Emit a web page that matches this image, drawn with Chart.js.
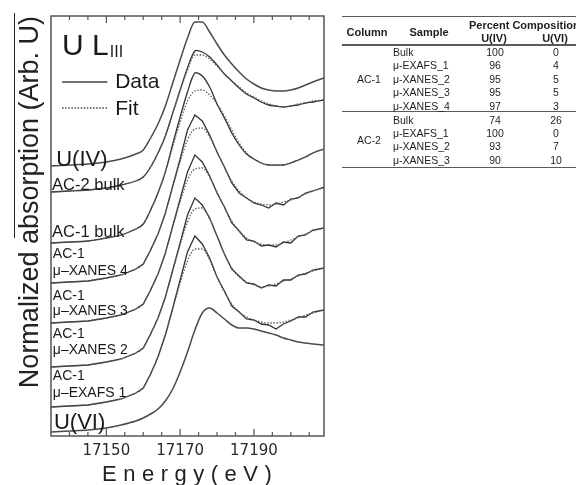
<!DOCTYPE html>
<html>
<head>
<meta charset="utf-8">
<script src="https://cdn.jsdelivr.net/npm/chart.js@4.4.1/dist/chart.umd.min.js"></script>
<style>
  html, body { margin: 0; padding: 0; background: #fff; }
  #wrap { position: relative; width: 576px; height: 485px; overflow: hidden; }
  #chart { position: absolute; left: 0; top: 0; }
  #table { position: absolute; left: 0; top: 0; width: 576px; height: 485px; font-family: 'Liberation Sans', Arial, sans-serif; color: #1e1e1e; }
  .t { position: absolute; white-space: nowrap; line-height: 1; }
  .rule { position: absolute; left: 342px; width: 234px; background: #5a5a5a; }
</style>
</head>
<body>
<div id="wrap">
  <canvas id="chart" width="576" height="485"></canvas>
  <div id="table"></div>
</div>
<script>
// energy grid (eV)
const energy = [17135, 17140, 17145, 17150, 17154, 17158, 17160, 17162, 17164, 17166,
  17168, 17170, 17172, 17174, 17176, 17178, 17180, 17182, 17184, 17186,
  17188, 17190, 17192, 17194, 17196, 17198, 17200, 17202, 17204, 17206, 17209];

// stacked spectra, arb. units (offsets included)
const uIV = [27.0, 27.1, 27.2, 27.4, 27.7, 28.2, 28.6, 29.8, 31.2, 33.0,
  35.3, 37.6, 39.8, 41.4, 41.4, 40.4, 39.2, 38.1, 37.2, 36.4,
  35.7, 35.2, 34.8, 34.6, 34.5, 34.5, 34.6, 34.8, 35.1, 35.4, 35.8];
const ac2Bulk = [24.4, 24.5, 24.6, 24.8, 25.1, 25.5, 25.9, 26.9, 28.3, 30.0,
  32.3, 34.6, 36.8, 38.5, 38.4, 37.9, 37.1, 36.2, 35.5, 34.8,
  34.2, 33.8, 33.4, 33.1, 33.0, 32.9, 33.0, 33.1, 33.3, 33.4, 33.6];
const ac2BulkFit = [24.4, 24.5, 24.6, 24.8, 25.1, 25.5, 25.9, 26.9, 28.3, 30.0,
  32.3, 34.5, 36.6, 38.1, 38.1, 37.7, 37.0, 36.2, 35.5, 34.9,
  34.3, 33.9, 33.5, 33.2, 33.0, 32.9, 33.0, 33.2, 33.3, 33.5, 33.6];
const ac1Bulk = [19.3, 19.4, 19.5, 19.8, 20.1, 20.7, 21.2, 22.6, 24.3, 26.4,
  29.2, 31.9, 34.4, 36.3, 36.0, 34.9, 33.2, 31.8, 30.3, 29.1,
  28.2, 27.7, 27.3, 27.1, 27.1, 27.1, 27.3, 27.6, 27.9, 28.3, 28.7];
const ac1BulkFit = [19.3, 19.4, 19.5, 19.8, 20.1, 20.7, 21.2, 22.6, 24.3, 26.4,
  28.9, 31.4, 33.5, 34.5, 34.6, 34.1, 33.2, 32.0, 30.6, 29.3,
  28.3, 27.7, 27.3, 27.1, 27.1, 27.1, 27.3, 27.6, 27.9, 28.3, 28.7];
const xanes4 = [15.3, 15.4, 15.5, 15.8, 16.1, 16.7, 17.2, 18.6, 20.2, 22.3,
  25.0, 27.7, 30.6, 32.1, 31.5, 30.1, 28.4, 26.9, 25.3, 24.3,
  23.8, 23.3, 23.1, 22.8, 23.3, 23.1, 23.7, 23.8, 24.3, 24.5, 24.9];
const xanes4Fit = [15.3, 15.4, 15.5, 15.8, 16.1, 16.7, 17.2, 18.6, 20.2, 22.3,
  24.9, 27.4, 29.6, 30.7, 30.8, 29.9, 28.4, 26.9, 25.5, 24.5,
  23.8, 23.4, 23.2, 23.1, 23.2, 23.4, 23.6, 23.9, 24.2, 24.5, 24.8];
const xanes3 = [11.3, 11.4, 11.5, 11.8, 12.1, 12.7, 13.2, 14.6, 16.2, 18.3,
  21.0, 23.7, 26.4, 28.1, 27.4, 26.0, 24.3, 22.9, 21.3, 20.5,
  19.6, 19.5, 19.0, 19.1, 18.9, 19.4, 19.3, 20.0, 20.1, 20.6, 20.8];
const xanes3Fit = [11.3, 11.4, 11.5, 11.8, 12.1, 12.7, 13.2, 14.6, 16.2, 18.3,
  20.9, 23.4, 25.6, 26.7, 26.8, 25.9, 24.4, 22.9, 21.5, 20.5,
  19.8, 19.4, 19.2, 19.1, 19.1, 19.3, 19.6, 19.9, 20.2, 20.5, 20.8];
const xanes2 = [6.9, 7.0, 7.1, 7.4, 7.7, 8.3, 8.8, 10.2, 11.8, 13.9,
  16.6, 19.3, 22.1, 23.8, 23.1, 21.8, 20.0, 18.2, 16.7, 16.0,
  15.3, 15.2, 14.8, 15.1, 15.0, 15.6, 15.6, 16.1, 16.2, 16.6, 16.8];
const xanes2Fit = [6.9, 7.0, 7.1, 7.4, 7.7, 8.3, 8.8, 10.2, 11.8, 13.9,
  16.5, 19.1, 21.4, 22.7, 22.8, 21.7, 20.0, 18.2, 16.8, 15.9,
  15.4, 15.1, 14.9, 15.0, 15.2, 15.5, 15.7, 16.0, 16.3, 16.5, 16.8];
const exafs1 = [2.9, 3.0, 3.1, 3.4, 3.7, 4.3, 4.8, 6.2, 7.9, 10.1,
  12.8, 15.6, 18.4, 20.0, 19.2, 17.8, 15.9, 14.5, 13.0, 12.4,
  11.7, 11.6, 11.2, 11.1, 10.7, 11.2, 11.5, 11.9, 11.9, 12.4, 12.6];
const exafs1Fit = [2.9, 3.0, 3.1, 3.4, 3.7, 4.3, 4.8, 6.2, 7.9, 10.1,
  12.7, 15.3, 17.5, 18.7, 18.7, 17.6, 15.9, 14.4, 13.2, 12.4,
  11.9, 11.6, 11.4, 11.3, 11.3, 11.4, 11.6, 11.8, 12.1, 12.3, 12.6];
const uVI = [0.4, 0.5, 0.6, 0.8, 1.1, 1.5, 1.8, 2.2, 2.7, 3.5,
  4.7, 6.4, 8.4, 10.6, 12.3, 12.8, 12.3, 11.7, 11.1, 10.8,
  10.8, 10.7, 10.5, 10.3, 10.1, 9.8, 9.6, 9.4, 9.3, 9.2, 9.1];

// x axis ticks
const minorTicks = [17140, 17145, 17150, 17155, 17160, 17165, 17170, 17175,
  17180, 17185, 17190, 17195, 17200, 17205];
const tickLabels = [17150, 17170, 17190];

// table
const tableHeaders = ['Column', 'Sample', 'Percent Composition', 'U(IV)', 'U(VI)'];
const ac1Samples = ['Bulk', 'μ-EXAFS_1', 'μ-XANES_2', 'μ-XANES_3', 'μ-XANES_4'];
const ac1UIV = [100, 96, 95, 95, 97];
const ac1UVI = [0, 4, 5, 5, 3];
const ac2Samples = ['Bulk', 'μ-EXAFS_1', 'μ-XANES_2', 'μ-XANES_3'];
const ac2UIV = [74, 100, 93, 90];
const ac2UVI = [26, 0, 7, 10];

const pts = arr => energy.map((e, i) => ({ x: e, y: arr[i] }));

// noisy micro-probe data: straight segments, bulk data: smooth
const dataLine = (label, arr, smooth) => ({ label, data: pts(arr), borderColor: '#333', borderWidth: 1.3, pointRadius: 0, tension: smooth ? 0.3 : 0, fill: false });
const stdLine = (label, arr) => ({ label, data: pts(arr), borderColor: '#4a4a4a', borderWidth: 1.5, pointRadius: 0, cubicInterpolationMode: 'monotone', fill: false });
const fitLine = (label, arr) => ({ label, data: pts(arr), borderColor: '#5c5c5c', borderWidth: 1.3, borderDash: [1.5, 1.6], pointRadius: 0, cubicInterpolationMode: 'monotone', fill: false });

const datasets = [
  stdLine('U(IV)', uIV),
  fitLine('AC-2 bulk fit', ac2BulkFit), dataLine('AC-2 bulk', ac2Bulk, true),
  fitLine('AC-1 bulk fit', ac1BulkFit), dataLine('AC-1 bulk', ac1Bulk, true),
  fitLine('μ-XANES 4 fit', xanes4Fit), dataLine('μ-XANES 4', xanes4),
  fitLine('μ-XANES 3 fit', xanes3Fit), dataLine('μ-XANES 3', xanes3),
  fitLine('μ-XANES 2 fit', xanes2Fit), dataLine('μ-XANES 2', xanes2),
  fitLine('μ-EXAFS 1 fit', exafs1Fit), dataLine('μ-EXAFS 1', exafs1),
  stdLine('U(VI)', uVI)
];

// curve labels, anchored in data coordinates (left, baseline)
const curveLabels = [
  { text: 'U(IV)', e: 17136.4, v: 27.0, size: 22 },
  { text: 'AC-2 bulk', e: 17135.3, v: 24.6, size: 16.5 },
  { text: 'AC-1 bulk', e: 17135.3, v: 19.9, size: 16.5 },
  { text: 'AC-1', e: 17135.5, v: 17.8, size: 14 },
  { text: 'μ–XANES 4', e: 17135.5, v: 16.1, size: 14 },
  { text: 'AC-1', e: 17135.5, v: 13.6, size: 14 },
  { text: 'μ–XANES 3', e: 17135.5, v: 12.1, size: 14 },
  { text: 'AC-1', e: 17135.5, v: 9.8, size: 14 },
  { text: 'μ–XANES 2', e: 17135.5, v: 8.2, size: 14 },
  { text: 'AC-1', e: 17135.5, v: 5.6, size: 14 },
  { text: 'μ–EXAFS 1', e: 17135.5, v: 3.9, size: 14 },
  { text: 'U(VI)', e: 17135.8, v: 0.7, size: 22 }
];

const FONT = "'Liberation Sans', Arial, sans-serif";

const decor = {
  id: 'decor',
  afterDraw(chart) {
    const { ctx, chartArea: a, scales: { x, y } } = chart;
    ctx.save();

    // frame + inward ticks
    ctx.strokeStyle = '#555';
    ctx.lineWidth = 1.5;
    ctx.strokeRect(a.left, a.top, a.right - a.left, a.bottom - a.top);
    ctx.lineWidth = 1.2;
    x.ticks.forEach(t => {
      const px = x.getPixelForValue(t.value);
      const len = tickLabels.includes(t.value) ? 7 : 4;
      ctx.beginPath();
      ctx.moveTo(px, a.top); ctx.lineTo(px, a.top + len);
      ctx.moveTo(px, a.bottom); ctx.lineTo(px, a.bottom - len);
      ctx.stroke();
    });

    // stray rule at the far left of the figure
    ctx.strokeStyle = '#222';
    ctx.lineWidth = 1;
    ctx.beginPath();
    ctx.moveTo(14.5, 13); ctx.lineTo(14.5, 238);
    ctx.stroke();

    ctx.fillStyle = '#1a1a1a';
    ctx.textBaseline = 'alphabetic';
    ctx.textAlign = 'left';

    // edge title  U L_III
    const tx = x.getPixelForValue(17138), ty = y.getPixelForValue(38.1);
    ctx.font = '30px ' + FONT;
    ctx.fillText('U L', tx, ty);
    const w = ctx.measureText('U L').width;
    ctx.font = '16px ' + FONT;
    ctx.fillText('III', tx + w + 1, ty + 2);

    // legend
    const lx0 = x.getPixelForValue(17138), lx1 = x.getPixelForValue(17150.3);
    ctx.strokeStyle = '#444';
    ctx.lineWidth = 1.3;
    ctx.beginPath();
    ctx.moveTo(lx0, y.getPixelForValue(35.4)); ctx.lineTo(lx1, y.getPixelForValue(35.4));
    ctx.stroke();
    ctx.setLineDash([1.5, 1.6]);
    ctx.beginPath();
    ctx.moveTo(lx0, y.getPixelForValue(32.8)); ctx.lineTo(lx1, y.getPixelForValue(32.8));
    ctx.stroke();
    ctx.setLineDash([]);
    ctx.font = '21px ' + FONT;
    const legX = x.getPixelForValue(17152.4);
    ctx.fillText('Data', legX, y.getPixelForValue(34.8));
    ctx.fillText('Fit', legX, y.getPixelForValue(32.1));

    // curve labels
    curveLabels.forEach(l => {
      ctx.font = l.size + 'px ' + FONT;
      ctx.fillText(l.text, x.getPixelForValue(l.e), y.getPixelForValue(l.v));
    });

    // x axis title, letter spaced
    ctx.font = '22px ' + FONT;
    ctx.fillStyle = '#222';
    if ('letterSpacing' in ctx) {
      ctx.letterSpacing = '6.5px';
      ctx.fillText('Energy(eV)', 102, 481);
      ctx.letterSpacing = '0px';
    } else {
      ctx.fillText('E n e r g y ( e V )', 102, 481);
    }
    ctx.restore();
  }
};

new Chart(document.getElementById('chart'), {
  type: 'line',
  data: { datasets },
  options: {
    responsive: false,
    devicePixelRatio: 1,
    animation: false,
    events: [],
    layout: { padding: { left: 14, right: 252, top: 16, bottom: 19 } },
    plugins: { legend: { display: false }, tooltip: { enabled: false } },
    scales: {
      x: {
        type: 'linear',
        min: 17135,
        max: 17209,
        afterBuildTicks: s => { s.ticks = minorTicks.map(v => ({ value: v })); },
        ticks: {
          autoSkip: false,
          maxRotation: 0,
          padding: 6,
          color: '#2a2a2a',
          font: { family: 'DejaVu Sans', size: 15 },
          callback: v => tickLabels.includes(v) ? String(v) : ''
        },
        grid: { display: false, drawTicks: false },
        border: { display: false }
      },
      y: {
        min: 0,
        max: 42,
        ticks: { display: false },
        grid: { display: false, drawTicks: false },
        border: { display: false },
        title: {
          display: true,
          text: 'Normalized absorption (Arb. U)',
          align: 'end',
          color: '#222',
          font: { family: 'Liberation Sans', size: 27 },
          padding: { top: 0, bottom: 4.6 }
        }
      }
    }
  },
  plugins: [decor]
});

// table on the right
const tbl = document.getElementById('table');
function place(text, x, base, size, bold, align) {
  const s = document.createElement('span');
  s.className = 't';
  s.textContent = text;
  s.style.fontSize = size + 'px';
  if (bold) s.style.fontWeight = 'bold';
  s.style.top = (base - 0.8465 * size) + 'px';
  s.style.left = x + 'px';
  if (align === 'center') s.style.transform = 'translateX(-50%)';
  tbl.appendChild(s);
}
function rule(top, h) {
  const d = document.createElement('div');
  d.className = 'rule';
  d.style.top = top + 'px';
  d.style.height = h + 'px';
  tbl.appendChild(d);
}
rule(15.5, 1.3);
rule(43.8, 2);
rule(111.2, 1.3);
rule(167.2, 1.3);
place(tableHeaders[0], 367, 36.5, 11, true, 'center');
place(tableHeaders[1], 429, 36.5, 11, true, 'center');
place(tableHeaders[2], 469, 29.5, 11, true);
place(tableHeaders[3], 494, 42.2, 11, true, 'center');
place(tableHeaders[4], 555, 42.2, 11, true, 'center');
function group(name, nameBase, samples, uiv, uvi, start) {
  place(name, 369, nameBase, 10.5, false, 'center');
  samples.forEach((s, i) => {
    const b = start + i * 13.35;
    place(s, 393, b, 10.5);
    place(String(uiv[i]), 495, b, 10.5, false, 'center');
    place(String(uvi[i]), 556, b, 10.5, false, 'center');
  });
}
group('AC-1', 83, ac1Samples, ac1UIV, ac1UVI, 56);
group('AC-2', 144, ac2Samples, ac2UIV, ac2UVI, 123.5);
</script>
</body>
</html>
